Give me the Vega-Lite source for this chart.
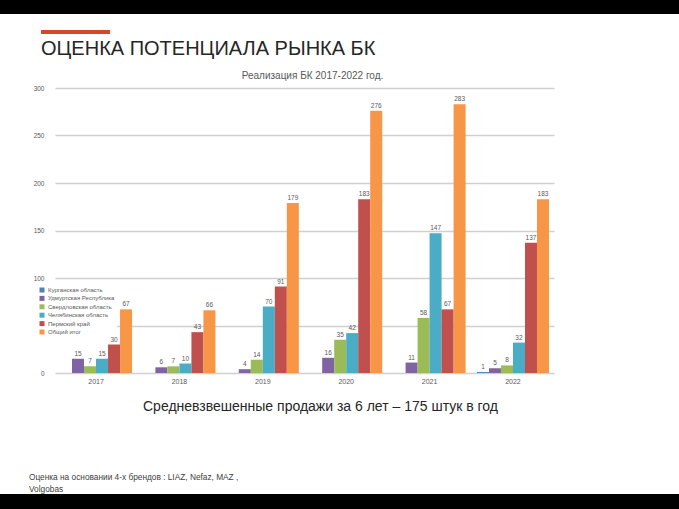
{
  "$schema": "https://vega.github.io/schema/vega-lite/v6.json",
  "background": "white",
  "padding": 0,
  "spacing": 0,
  "config": {"view": {"stroke": null}, "font": "Liberation Sans"},
  "datasets": {
    "sales": [
      {"year": "2017", "region": "Удмуртская Республика", "value": 15},
      {"year": "2017", "region": "Свердловская область", "value": 7},
      {"year": "2017", "region": "Челябинская область", "value": 15},
      {"year": "2017", "region": "Пермский край", "value": 30},
      {"year": "2017", "region": "Общий итог", "value": 67},
      {"year": "2018", "region": "Удмуртская Республика", "value": 6},
      {"year": "2018", "region": "Свердловская область", "value": 7},
      {"year": "2018", "region": "Челябинская область", "value": 10},
      {"year": "2018", "region": "Пермский край", "value": 43},
      {"year": "2018", "region": "Общий итог", "value": 66},
      {"year": "2019", "region": "Удмуртская Республика", "value": 4},
      {"year": "2019", "region": "Свердловская область", "value": 14},
      {"year": "2019", "region": "Челябинская область", "value": 70},
      {"year": "2019", "region": "Пермский край", "value": 91},
      {"year": "2019", "region": "Общий итог", "value": 179},
      {"year": "2020", "region": "Удмуртская Республика", "value": 16},
      {"year": "2020", "region": "Свердловская область", "value": 35},
      {"year": "2020", "region": "Челябинская область", "value": 42},
      {"year": "2020", "region": "Пермский край", "value": 183},
      {"year": "2020", "region": "Общий итог", "value": 276},
      {"year": "2021", "region": "Удмуртская Республика", "value": 11},
      {"year": "2021", "region": "Свердловская область", "value": 58},
      {"year": "2021", "region": "Челябинская область", "value": 147},
      {"year": "2021", "region": "Пермский край", "value": 67},
      {"year": "2021", "region": "Общий итог", "value": 283},
      {"year": "2022", "region": "Курганская область", "value": 1},
      {"year": "2022", "region": "Удмуртская Республика", "value": 5},
      {"year": "2022", "region": "Свердловская область", "value": 8},
      {"year": "2022", "region": "Челябинская область", "value": 32},
      {"year": "2022", "region": "Пермский край", "value": 137},
      {"year": "2022", "region": "Общий итог", "value": 183}
    ]
  },
  "vconcat": [
    {
      "width": 679,
      "height": 14,
      "view": {"fill": "#000000", "stroke": null},
      "data": {"values": []},
      "mark": {"type": "point", "opacity": 0},
      "encoding": {}
    },
    {
      "spacing": 0,
      "hconcat": [
        {
          "width": 1,
          "height": 1,
          "data": {"values": []},
          "mark": {"type": "point", "opacity": 0},
          "encoding": {}
        },
        {
          "width": 69,
          "height": 4,
          "view": {"fill": "#d5472b", "stroke": null},
          "data": {"values": [{"k": 0}]},
          "mark": {"type": "point", "opacity": 0},
          "encoding": {
            "x": {"field": "k", "type": "quantitative", "axis": {"orient": "top", "labels": false, "ticks": false, "domain": false, "grid": false, "title": null, "minExtent": 16, "maxExtent": 16}},
            "y": {"field": "k", "type": "quantitative", "axis": {"labels": false, "ticks": false, "domain": false, "grid": false, "title": null, "minExtent": 40, "maxExtent": 40}}
          },
          "title": {"text": "ОЦЕНКА ПОТЕНЦИАЛА РЫНКА БК", "orient": "bottom", "anchor": "start", "frame": "group", "fontSize": 20, "fontWeight": "normal", "color": "#262626", "offset": 4, "baseline": "top"}
        }
      ]
    },
    {
      "width": 1,
      "height": 12,
      "data": {"values": []},
      "mark": {"type": "point", "opacity": 0},
      "encoding": {}
    },
    {
      "spacing": 0,
      "hconcat": [
        {
          "width": 1,
          "height": 1,
          "data": {"values": []},
          "mark": {"type": "point", "opacity": 0},
          "encoding": {}
        },
        {
          "width": 499,
          "height": 285,
          "title": {"text": "Реализация БК 2017-2022 год.", "fontSize": 10, "fontWeight": "normal", "color": "#595959", "anchor": "middle", "dx": 8, "offset": 4},
          "data": {"name": "sales"},
          "encoding": {
            "x": {
              "field": "year", "type": "nominal",
              "scale": {"paddingInner": 0.136, "paddingOuter": 0.06},
              "axis": {"title": "Средневзвешенные продажи за 6 лет – 175 штук в год", "labelAngle": 0, "domain": false, "ticks": false, "labelFontSize": 7, "labelColor": "#595959", "labelPadding": 4, "titleFontSize": 14, "titleFontWeight": "normal", "titleColor": "#262626", "titleX": 265, "titleY": 37, "titleAlign": "center", "titleBaseline": "alphabetic"}
            },
            "xOffset": {"field": "region", "type": "nominal", "scale": {"domain": ["Курганская область", "Удмуртская Республика", "Свердловская область", "Челябинская область", "Пермский край", "Общий итог"]}},
            "y": {
              "field": "value", "type": "quantitative",
              "scale": {"domain": [0, 300]},
              "axis": {"values": [0, 50, 100, 150, 200, 250, 300], "title": null, "domain": false, "ticks": false, "labelFontSize": 6.5, "labelColor": "#595959", "labelPadding": 11, "gridColor": "#d0d0d0", "gridWidth": 1.5, "minExtent": 54, "maxExtent": 54}
            }
          },
          "layer": [
            {
              "mark": {"type": "bar"},
              "encoding": {
                "color": {
                  "field": "region", "type": "nominal",
                  "scale": {"domain": ["Курганская область", "Удмуртская Республика", "Свердловская область", "Челябинская область", "Пермский край", "Общий итог"], "range": ["#4f81bd", "#8064a2", "#9bbb59", "#4bacc6", "#c0504d", "#f79646"]},
                  "legend": {"title": null, "orient": "none", "legendX": 37, "legendY": 285, "padding": 2, "fillColor": "white", "symbolType": "square", "symbolSize": 25, "symbolStrokeWidth": 0, "labelFontSize": 6, "labelColor": "#595959", "rowPadding": 2.4, "labelOffset": 3}
                }
              }
            },
            {
              "mark": {"type": "text", "dy": -2, "fontSize": 6.5, "color": "#595959", "baseline": "bottom"},
              "encoding": {"text": {"field": "value", "type": "quantitative"}}
            }
          ]
        }
      ]
    },
    {
      "width": 1,
      "height": 60,
      "data": {"values": []},
      "mark": {"type": "point", "opacity": 0},
      "encoding": {}
    },
    {
      "width": 679,
      "height": 30,
      "view": {"fill": "#000000", "stroke": null},
      "data": {"values": []},
      "mark": {"type": "point", "opacity": 0},
      "encoding": {},
      "title": {"text": ["Оценка на основании 4-х брендов : LIAZ, Nefaz, MAZ ,", "Volgobas"], "orient": "top", "anchor": "start", "frame": "group", "dx": 29, "fontSize": 8.3, "lineHeight": 11.5, "fontWeight": "normal", "color": "#404040", "offset": 1}
    }
  ]
}
